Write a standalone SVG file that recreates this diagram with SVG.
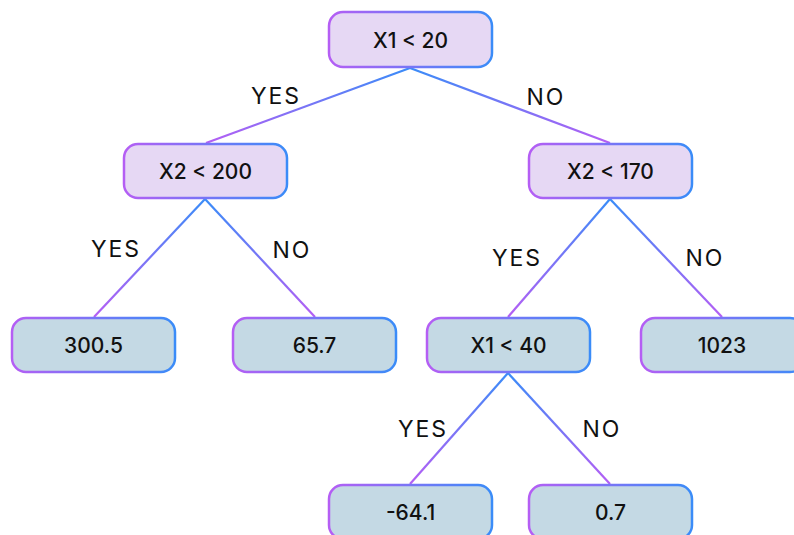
<svg xmlns="http://www.w3.org/2000/svg" width="794" height="535" viewBox="0 0 794 535">
<defs>
<linearGradient id="bord" x1="0" y1="0" x2="1" y2="0">
<stop offset="0" stop-color="#b55ef4"/>
<stop offset="1" stop-color="#3a8cf8"/>
</linearGradient>
<linearGradient id="edge" x1="0" y1="0" x2="0" y2="1">
<stop offset="0" stop-color="#3a8cf8"/>
<stop offset="1" stop-color="#b55ef4"/>
</linearGradient>
</defs>
<style>
.dec{fill:#e6d8f4;stroke:url(#bord);stroke-width:2.5}
.leaf{fill:#c4d9e4;stroke:url(#bord);stroke-width:2.5}
.nt{font-family:Inter,"Liberation Sans",sans-serif;font-size:21px;font-weight:500;fill:#111;text-anchor:middle;dominant-baseline:central}
.lb{font-family:Inter,"Liberation Sans",sans-serif;font-size:23px;letter-spacing:2px;fill:#111;text-anchor:middle;dominant-baseline:central}
.e{stroke:url(#edge);stroke-width:2.2;fill:none}
</style>
<rect width="794" height="535" fill="#ffffff"/>
<g id="connectors">
<path class="e" d="M410 68 L206 143"/>
<path class="e" d="M410 68 L610 143"/>
<path class="e" d="M205 199 L94 317"/>
<path class="e" d="M205 199 L315 317"/>
<path class="e" d="M610 199 L508 317"/>
<path class="e" d="M610 199 L722 317"/>
<path class="e" d="M508 373 L410 484"/>
<path class="e" d="M508 373 L610 484"/>
<text class="lb" x="276" y="96">YES</text>
<text class="lb" x="546" y="97">NO</text>
<text class="lb" x="116" y="249">YES</text>
<text class="lb" x="292" y="250">NO</text>
<text class="lb" x="517" y="258">YES</text>
<text class="lb" x="705" y="258">NO</text>
<text class="lb" x="423" y="429">YES</text>
<text class="lb" x="602" y="429">NO</text>
</g>
<g id="n_root"><rect class="dec" x="329" y="12" width="163" height="55" rx="14"/><text class="nt" x="410.5" y="40">X1 &lt; 20</text></g>
<g id="n_x2_200"><rect class="dec" x="124" y="144" width="163" height="54" rx="14"/><text class="nt" x="205.5" y="171">X2 &lt; 200</text></g>
<g id="n_x2_170"><rect class="dec" x="529" y="144" width="163" height="54" rx="14"/><text class="nt" x="610.5" y="171">X2 &lt; 170</text></g>
<g id="n_3005"><rect class="leaf" x="12" y="318" width="163" height="54" rx="14"/><text class="nt" x="93.5" y="345">300.5</text></g>
<g id="n_657"><rect class="leaf" x="233" y="318" width="163" height="54" rx="14"/><text class="nt" x="314.5" y="345">65.7</text></g>
<g id="n_x1_40"><rect class="leaf" x="427" y="318" width="163" height="54" rx="14"/><text class="nt" x="508.5" y="345">X1 &lt; 40</text></g>
<g id="n_1023"><rect class="leaf" x="641" y="318" width="163" height="54" rx="14"/><text class="nt" x="722" y="345">1023</text></g>
<g id="n_m641"><rect class="leaf" x="329" y="485" width="163" height="54" rx="14"/><text class="nt" x="410.5" y="512">-64.1</text></g>
<g id="n_07"><rect class="leaf" x="529" y="485" width="163" height="54" rx="14"/><text class="nt" x="610.5" y="512">0.7</text></g>
</svg>
